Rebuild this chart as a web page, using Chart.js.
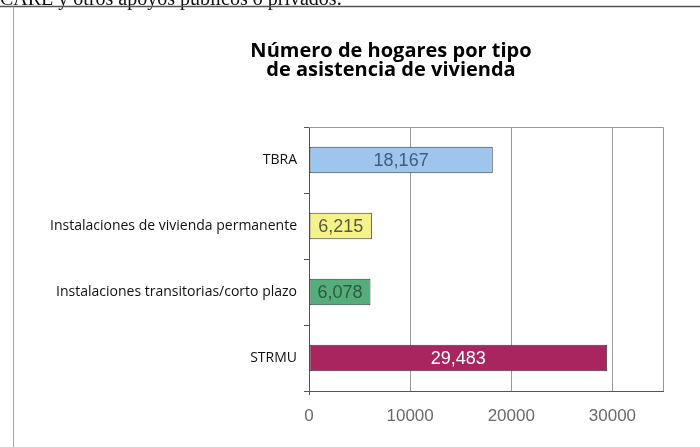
<!DOCTYPE html>
<html>
<head>
<meta charset="utf-8">
<script src="https://cdn.jsdelivr.net/npm/chart.js@4.4.1/dist/chart.umd.min.js"></script>
<style>
  body { margin: 0; background: #fff; }
  #wrap { position: relative; width: 700px; height: 447px; overflow: hidden; }
</style>
</head>
<body>
<div id="wrap"><canvas id="hogaresChart" width="700" height="447"></canvas></div>
<script>
// ----------- Datos -----------
const categorias = [
    'TBRA',
    'Instalaciones de vivienda permanente',
    'Instalaciones transitorias/corto plazo',
    'STRMU'
];
const hogares = [18167, 6215, 6078, 29483];
const ticksX = [0, 10000, 20000, 30000];
const maxX = 35000;
const titulo = ['Número de hogares por tipo', 'de asistencia de vivienda'];
const textoSuperior = 'CARE y otros apoyos públicos o privados.';

// colores de barras y de sus etiquetas
const colores = ['#9ec6ec', '#f6f28a', '#55ad7c', '#a8255f'];
const coloresTexto = ['#3f5d7c', '#5a5a3a', '#2f5a42', '#ffffff'];

// ----------- Marco, título y etiquetas -----------
const decoracion = {
    id: 'decoracion',
    beforeDraw(chart) {
        const ctx = chart.ctx;
        ctx.save();
        ctx.fillStyle = '#fff';
        ctx.fillRect(0, 0, chart.width, chart.height);
        // texto cortado de la página
        ctx.fillStyle = '#111';
        ctx.font = '20px "Liberation Serif"';
        ctx.textBaseline = 'alphabetic';
        ctx.fillText(textoSuperior, 0, 5);
        // marco de la página
        ctx.strokeStyle = '#555';
        ctx.lineWidth = 1.5;
        ctx.beginPath();
        ctx.moveTo(0, 6.5);
        ctx.lineTo(700, 6.5);
        ctx.stroke();
        ctx.strokeStyle = '#aaa';
        ctx.lineWidth = 1;
        ctx.beginPath();
        ctx.moveTo(13.5, 7);
        ctx.lineTo(13.5, 447);
        ctx.stroke();
        // título
        ctx.fillStyle = '#000';
        ctx.font = 'bold 20px "Open Sans"';
        ctx.textAlign = 'center';
        ctx.fillText(titulo[0], 391, 57);
        ctx.fillText(titulo[1], 391, 76);
        ctx.restore();
    },
    beforeDatasetsDraw(chart) {
        const { ctx, chartArea: a } = chart;
        ctx.save();
        ctx.strokeStyle = '#999';
        ctx.lineWidth = 1;
        ctx.beginPath();
        ctx.moveTo(a.left, a.top + 0.5);
        ctx.lineTo(a.right + 0.5, a.top + 0.5);
        ctx.lineTo(a.right + 0.5, a.bottom);
        ctx.stroke();
        ctx.restore();
    },
    afterDatasetsDraw(chart) {
        const ctx = chart.ctx;
        const meta = chart.getDatasetMeta(0);
        ctx.save();
        ctx.font = '18px "Liberation Sans"';
        ctx.textAlign = 'center';
        ctx.textBaseline = 'middle';
        meta.data.forEach((bar, i) => {
            ctx.fillStyle = coloresTexto[i];
            ctx.fillText(hogares[i].toLocaleString('en-US'), (bar.x + bar.base) / 2, bar.y + 1);
        });
        ctx.restore();
    }
};

// ----------- Gráfico -----------
document.addEventListener('DOMContentLoaded', () => {
    const ctx = document.getElementById('hogaresChart').getContext('2d');
    new Chart(ctx, {
        type: 'bar',
        data: {
            labels: categorias,
            datasets: [{
                data: hogares,
                backgroundColor: colores,
                borderColor: '#3a3a3a',
                borderWidth: 1,
                borderSkipped: false,
                barPercentage: 0.4,
                categoryPercentage: 1
            }]
        },
        options: {
            indexAxis: 'y',
            responsive: false,
            animation: false,
            layout: { padding: { left: 0, right: 37, top: 127, bottom: 0 } },
            plugins: {
                legend: { display: false },
                title: { display: false },
                tooltip: { enabled: false }
            },
            scales: {
                x: {
                    min: 0,
                    max: maxX,
                    afterBuildTicks: s => { s.ticks = ticksX.map(v => ({ value: v })); },
                    afterFit: s => { s.height = 56; },
                    grid: {
                        color: '#9a9a9a',
                        tickLength: 4,
                        tickColor: c => c.index === 0 ? '#555' : 'rgba(0,0,0,0)'
                    },
                    border: { color: '#555' },
                    ticks: {
                        color: '#6a6a6a',
                        font: { family: 'Liberation Sans', size: 17 },
                        padding: 11,
                        callback: v => String(v)
                    }
                },
                y: {
                    afterFit: s => { s.width = 309; },
                    grid: {
                        drawOnChartArea: false,
                        offset: true,
                        tickLength: 5,
                        color: '#555'
                    },
                    border: { color: '#555' },
                    ticks: {
                        color: '#111',
                        font: { family: 'Open Sans', size: 14 },
                        padding: 7
                    }
                }
            }
        },
        plugins: [decoracion]
    });
});
</script>
</body>
</html>
